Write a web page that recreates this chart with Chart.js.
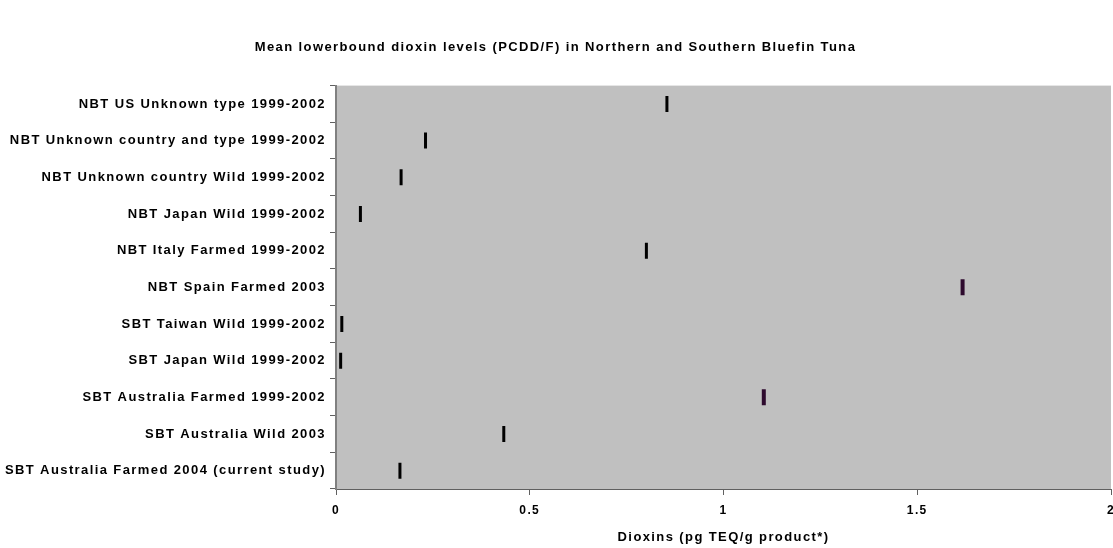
<!DOCTYPE html>
<html>
<head>
<meta charset="utf-8">
<script src="https://cdn.jsdelivr.net/npm/chart.js@4"></script>
<style>
  html, body { margin: 0; padding: 0; background: #fff; }
  #wrap { width: 1113px; height: 548px; }
</style>
</head>
<body>
<div id="wrap"><canvas id="chart" width="1113" height="548"></canvas></div>
<script>

// categories, top to bottom
let categories = [
  'NBT US Unknown type 1999-2002',
  'NBT Unknown country and type 1999-2002',
  'NBT Unknown country Wild 1999-2002',
  'NBT Japan Wild 1999-2002',
  'NBT Italy Farmed 1999-2002',
  'NBT Spain Farmed 2003',
  'SBT Taiwan Wild 1999-2002',
  'SBT Japan Wild 1999-2002',
  'SBT Australia Farmed 1999-2002',
  'SBT Australia Wild 2003',
  'SBT Australia Farmed 2004 (current study)'
];

// mean lowerbound dioxin levels (pg TEQ/g product)
let dioxins = [0.854, 0.231, 0.168, 0.063, 0.801, 1.617, 0.015, 0.012, 1.104, 0.433, 0.165];

// x axis range
let xMin = 0;
let xMax = 2;
let xStep = 0.5;

let chartTitle = 'Mean lowerbound dioxin levels (PCDD/F) in Northern and Southern Bluefin Tuna';
let xTitle = 'Dioxins (pg TEQ/g product*)';

// two marks are drawn in dark purple in the original
let markColors = dioxins.map(function(v, i) {
  return (i == 5 || i == 8) ? '#2e0a2e' : '#000000';
});
let markWidths = dioxins.map(function(v, i) {
  return (i == 5 || i == 8) ? 4 : 3;
});

// the original text is rendered a little spaced out
function spaceLetters(chart) {
  chart.ctx.letterSpacing = '1.4px';
}

// grey plot area, letter spacing, and no side padding for the x labels
const plotBackground = {
  id: 'plotBackground',
  beforeLayout(chart) {
    spaceLetters(chart);
    const x = chart.scales.x;
    if (x) {
      x.getPadding = function() {
        return { left: 0, top: 0, right: 0, bottom: 0 };
      };
    }
  },
  beforeDraw(chart) {
    spaceLetters(chart);
    const a = chart.chartArea;
    const ctx = chart.ctx;
    ctx.save();
    ctx.fillStyle = '#c0c0c0';
    ctx.fillRect(a.left, a.top, a.right - a.left, a.bottom - a.top);
    ctx.restore();
  }
};

const font = 'Liberation Sans, Arial, sans-serif';

new Chart(document.getElementById('chart'), {
  type: 'line',
  data: {
    labels: categories,
    datasets: [{
      data: dioxins,
      showLine: false,
      pointStyle: 'line',
      rotation: 90,
      pointRadius: 8,
      pointHoverRadius: 8,
      pointBorderColor: markColors,
      pointBorderWidth: markWidths,
      pointBackgroundColor: markColors
    }]
  },
  options: {
    indexAxis: 'y',
    responsive: false,
    animation: false,
    events: [],
    layout: { padding: { left: 0, right: 2, top: 0, bottom: 0 }, autoPadding: false },
    plugins: {
      legend: { display: false },
      tooltip: { enabled: false },
      title: {
        display: true,
        text: chartTitle,
        color: '#000',
        font: { family: font, size: 13, weight: 'bold' },
        padding: { top: 40, bottom: 30 }
      }
    },
    scales: {
      x: {
        type: 'linear',
        min: xMin,
        max: xMax,
        ticks: {
          stepSize: xStep,
          color: '#000',
          padding: 8,
          font: { family: font, size: 12, weight: 'bold' },
          callback: function(value) { return String(value); }
        },
        grid: {
          drawOnChartArea: false,
          drawTicks: true,
          tickLength: 6,
          color: '#606060'
        },
        border: { color: '#606060', width: 1 },
        title: {
          display: true,
          text: xTitle,
          color: '#000',
          font: { family: font, size: 13, weight: 'bold' },
          padding: { top: 4, bottom: 3 }
        },
        afterFit: function(scale) {
          scale.height = 59;
          scale.paddingLeft = 0;
          scale.paddingRight = 0;
        }
      },
      y: {
        type: 'category',
        offset: true,
        ticks: {
          color: '#000',
          padding: 4,
          font: { family: font, size: 13, weight: 'bold' }
        },
        grid: {
          offset: true,
          drawOnChartArea: false,
          drawTicks: true,
          tickLength: 6,
          color: '#606060'
        },
        border: { color: '#808080', width: 2 },
        afterFit: function(scale) {
          scale.width = 336;
        }
      }
    }
  },
  plugins: [plotBackground]
});
</script>
</body>
</html>
